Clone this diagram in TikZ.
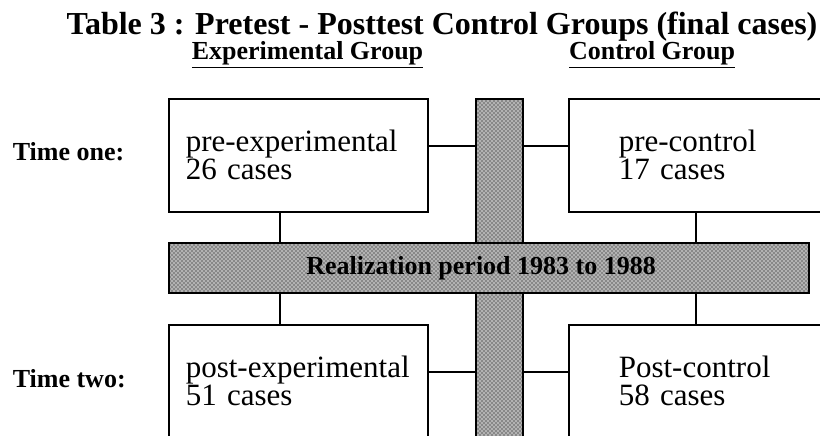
\documentclass[tikz,border=0pt]{standalone}
\usepackage{fontspec}
\setmainfont{Liberation Serif}
\usetikzlibrary{patterns}

\tikzset{every picture/.style={line width=1.2pt}}
\tikzset{
  casebox/.style={draw, rectangle, anchor=north west, minimum width=194.25pt, minimum height=84.75pt, align=left, inner ysep=0pt, font=\fontsize{23.25}{21}\selectfont},
  leftbox/.style={casebox, inner xsep=12.75pt, text width=168.75pt},
  rightbox/.style={casebox, inner xsep=37.5pt, text width=119.25pt},
  period/.style={draw, line width=1.6pt, anchor=north west, preaction={fill=gray!60}, pattern=crosshatch dots, pattern color=black, inner sep=0pt},
  headlabel/.style={font=\bfseries\fontsize{19.5}{22}\selectfont, inner sep=0pt},
  link/.style={line width=1.2pt}
}

\begin{document}
\begin{tikzpicture}[x=0.75pt,y=0.75pt,yscale=-1,xscale=1]
\clip (0,0) rectangle (820,435);

% Title and group headings
\node[anchor=base, inner sep=0pt, font=\bfseries\fontsize{24}{28}\selectfont] (title) at (442,35) {Table 3 : Pretest - Posttest Control Groups (final cases)};
\node[headlabel, anchor=base] (expgroup) at (307.5,60) {\underline{Experimental Group}};
\node[headlabel, anchor=base] (ctrlgroup) at (652,60) {\underline{Control Group}};

% Time labels
\node[headlabel, anchor=base west] (timeone) at (12,160) {Time one:};
\node[headlabel, anchor=base west] (timetwo) at (12,387) {Time two:};

% Case boxes
\node[leftbox] (preexp) at (168,98) {pre-experimental\\26 cases};
\node[rightbox] (prectrl) at (568,98) {pre-control\\17 cases};
\node[leftbox] (postexp) at (168,324) {post-experimental\\51 cases};
\node[rightbox] (postctrl) at (568,324) {Post-control\\58 cases};

% Connectors (bars are drawn over them)
\draw[link] ([yshift=36pt]preexp.north east) -- ([yshift=36pt]prectrl.north west);
\draw[link] ([yshift=36pt]postexp.north east) -- ([yshift=36pt]postctrl.north west);
\draw[link] ([xshift=84pt]preexp.south west) -- ([xshift=84pt]postexp.north west);
\draw[link] ([xshift=96pt]prectrl.south west) -- ([xshift=96pt]postctrl.north west);

% Shaded bars
\node[period, minimum width=35.25pt, minimum height=270pt] (divider) at (475,98) {};
\node[period, minimum width=480pt, minimum height=37.5pt, font=\bfseries\fontsize{19.5}{22}\selectfont] (realization) at (168,242) {Realization period 1983 to 1988\hspace*{12pt}};

\end{tikzpicture}
\end{document}
